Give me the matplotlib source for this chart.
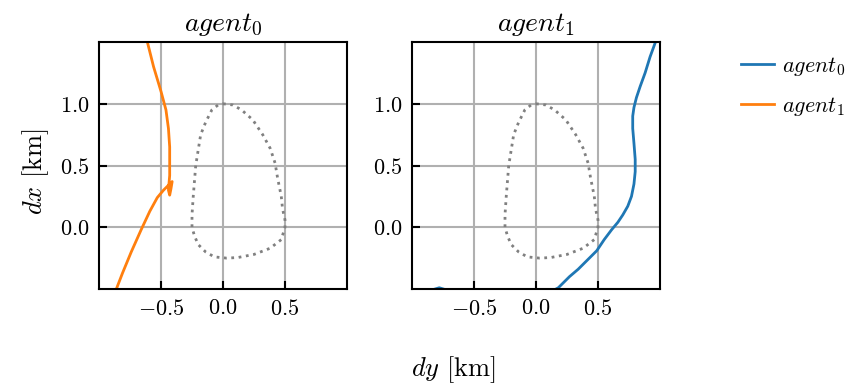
import matplotlib
matplotlib.use('Agg')
import matplotlib.pyplot as plt
import numpy as np

plt.rcParams['font.family'] = 'serif'
plt.rcParams['font.serif'] = ['cmr10']
plt.rcParams['mathtext.fontset'] = 'cm'
plt.rcParams['axes.formatter.use_mathtext'] = True

# Safety boundary (dy, dx) in km, closed loop
boundary_dy = [0.00, 0.08, 0.15, 0.24, 0.32, 0.38, 0.42, 0.44, 0.47, 0.48, 0.50, 0.50,
               0.47, 0.38, 0.25, 0.12, 0.03, -0.07, -0.14, -0.20, -0.23, -0.25, -0.25,
               -0.24, -0.22, -0.18, -0.14, -0.09, -0.04, 0.00]
boundary_dx = [1.00, 0.99, 0.95, 0.87, 0.75, 0.64, 0.52, 0.40, 0.25, 0.15, 0.06, 0.00,
               -0.10, -0.17, -0.22, -0.245, -0.25, -0.24, -0.20, -0.14, -0.07, 0.00, 0.10,
               0.25, 0.50, 0.75, 0.85, 0.95, 0.99, 1.00]

# agent_1 position relative to agent_0
rel1_dy = [-0.61, -0.56, -0.50, -0.46, -0.44, -0.43, -0.43, -0.43, -0.44, -0.43, -0.42,
           -0.41, -0.44, -0.48, -0.53, -0.59, -0.66, -0.74, -0.81, -0.86]
rel1_dx = [1.50, 1.30, 1.10, 0.95, 0.80, 0.65, 0.52, 0.42, 0.30, 0.26, 0.31,
           0.37, 0.34, 0.30, 0.24, 0.13, -0.02, -0.20, -0.37, -0.50]

# agent_0 position relative to agent_1
rel0_dy = [0.96, 0.92, 0.88, 0.84, 0.81, 0.79, 0.78, 0.78, 0.79, 0.80, 0.80, 0.79, 0.77,
           0.74, 0.70, 0.66, 0.61, 0.55, 0.49, 0.41, 0.34, 0.27, 0.18, 0.05, -0.20, -0.45,
           -0.65, -0.78, -0.88]
rel0_dx = [1.49, 1.38, 1.25, 1.14, 1.05, 0.97, 0.90, 0.80, 0.68, 0.55, 0.45, 0.35, 0.25,
           0.17, 0.10, 0.04, -0.02, -0.10, -0.19, -0.27, -0.34, -0.40, -0.49, -0.56, -0.60,
           -0.58, -0.53, -0.49, -0.52]

titles = [r'$agent_0$', r'$agent_1$']
xticks = [-0.5, 0.0, 0.5]
yticks = [0.0, 0.5, 1.0]

fig = plt.figure(figsize=(8.49, 3.87), dpi=100)
ax0 = fig.add_axes([99/849, 1-289/387, 248/849, 247/387])
ax1 = fig.add_axes([412/849, 1-289/387, 248/849, 247/387])

for ax, title in zip([ax0, ax1], titles):
    ax.plot(boundary_dy, boundary_dx, color='gray', linestyle=':', linewidth=2.0)
    ax.set_xlim(-1, 1)
    ax.set_ylim(-0.5, 1.5)
    ax.set_xticks(xticks)
    ax.set_yticks(yticks)
    ax.grid(True, color='#b0b0b0', linewidth=1.5)
    ax.set_axisbelow(True)
    ax.tick_params(direction='in', length=6, width=1.5, labelsize=16, pad=7)
    for s in ax.spines.values():
        s.set_linewidth(1.5)
    ax.set_title(title, fontsize=20, pad=8)

l1, = ax0.plot(rel1_dy, rel1_dx, color='#ff7f0e', linewidth=2.0)
l0, = ax1.plot(rel0_dy, rel0_dx, color='#1f77b4', linewidth=2.0)

fig.legend([l0, l1], [r'$agent_0$', r'$agent_1$'], loc='upper left',
           bbox_to_anchor=(741/849, 1-55/387), frameon=False, fontsize=16,
           borderpad=0, borderaxespad=0,
           handlelength=1.5, handletextpad=0.36, labelspacing=0.75)

fig.text(453/849, 1-370/387, r'$dy$ [km]', ha='center', va='center', fontsize=19)
fig.text(36/849, 1-172/387, r'$dx$ [km]', ha='center', va='center', rotation=90, fontsize=19)

fig.savefig('out.png', dpi=100, facecolor='white')
